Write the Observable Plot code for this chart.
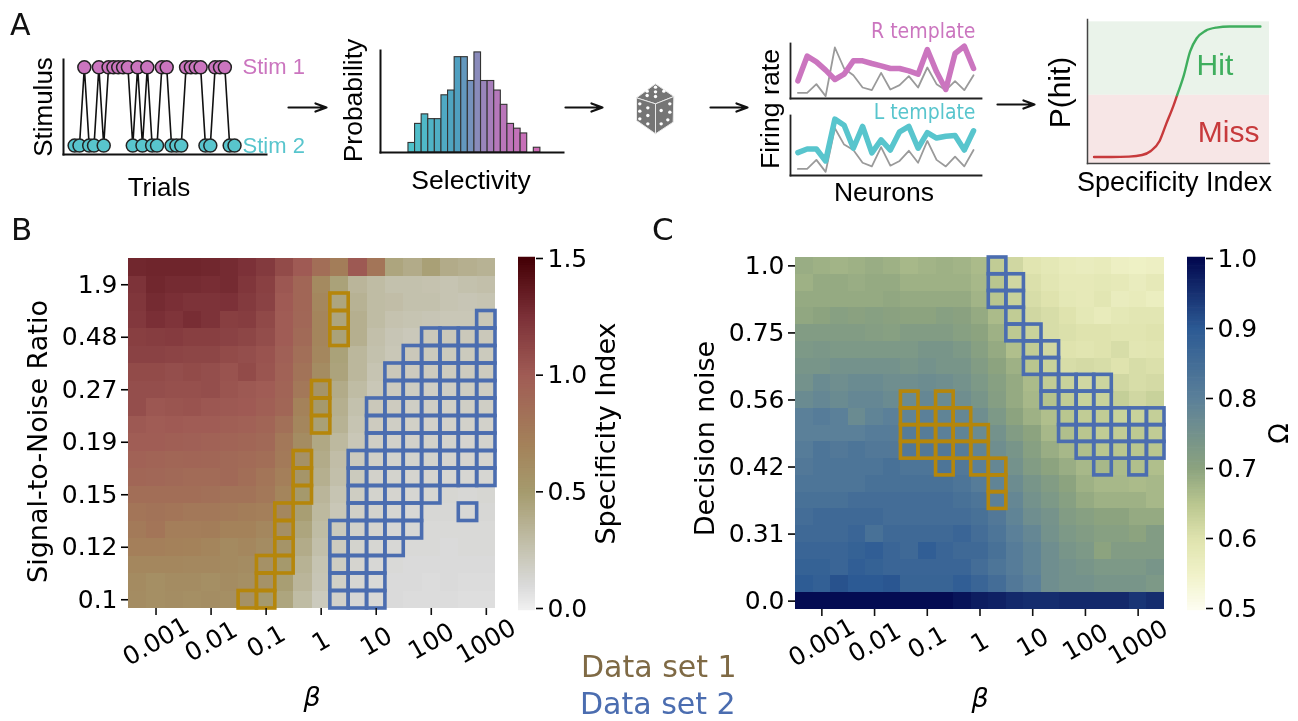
<!DOCTYPE html>
<html><head><meta charset="utf-8">
<script src="https://cdn.jsdelivr.net/npm/d3@7"></script>
<script src="https://cdn.jsdelivr.net/npm/@observablehq/plot@0.6"></script>
<style>
html,body{margin:0;padding:0;background:#fff;width:1298px;height:721px;overflow:hidden}
#page{position:relative;width:1298px;height:721px;font-family:"DejaVu Sans";filter:blur(.55px)}
#page svg{position:absolute;overflow:visible}
.lbl{position:absolute;line-height:1;white-space:nowrap}
</style></head><body><div id="page"></div>
<script>
// ---------- Panel A data ----------
const stimSequence=[2,2,1,2,2,1,2,1,1,1,1,1,2,1,2,1,2,2,1,1,2,2,2,1,1,1,1,2,2,1,1,1,2,2];
const histCounts=[2,6,8,7,7,12,13,20,20,15,21,15,15,13,10,6,5,4,0,1];
const rTemplate=[53,127,110,85,57,73,113,113,105,98,90,90,83,73,147,80,27,135,157,90];
const rTrial=[17,17,43,7,153,90,70,33,25,77,27,40,67,33,93,43,25,52,25,70];
const lTemplate=[63,73,73,40,155,138,75,135,62,98,70,120,135,75,118,103,108,110,70,123];
const lTrial=[18,18,43,10,130,85,70,35,25,78,27,40,68,35,95,43,25,52,25,70];
const curveX=[.036,.132,.228,.30,.348,.396,.432,.474,.492,.528,.564,.60,.648,.708,.78,.95];
const curveY=[0,0,.003,.015,.046,.123,.252,.40,.473,.62,.81,.91,.967,.992,1,1];
// ---------- Panel B data: Specificity Index, rows top (SNR high) to bottom ----------
const snrLabels=["0.1","0.12","0.15","0.19","0.27","0.48","1.9"];
const betaLabels=["0.001","0.01","0.1","1","10","100","1000"];
const siRows=[
[1.30,1.31,1.31,1.31,1.30,1.28,1.25,1.20,1.10,1.01,.86,.74,1.02,.80,.44,.40,.47,.40,.38,.36],
[1.24,1.30,1.28,1.28,1.27,1.28,1.22,1.16,1.03,.92,.64,.46,.34,.30,.27,.27,.26,.25,.27,.28],
[1.22,1.28,1.26,1.24,1.24,1.25,1.20,1.15,1.01,.92,.66,.44,.36,.30,.29,.27,.27,.25,.24,.25],
[1.21,1.26,1.23,1.27,1.24,1.17,1.18,1.11,1.00,.91,.68,.44,.38,.30,.26,.25,.24,.23,.23,.23],
[1.17,1.18,1.19,1.17,1.17,1.15,1.13,1.09,1.00,.89,.68,.46,.38,.28,.24,.22,.22,.22,.22,.22],
[1.15,1.15,1.14,1.13,1.13,1.10,1.08,1.05,.97,.85,.66,.46,.33,.27,.23,.22,.21,.21,.21,.21],
[1.10,1.10,1.08,1.10,1.08,1.05,1.10,1.04,.95,.82,.62,.45,.33,.25,.22,.20,.20,.20,.20,.20],
[1.08,1.08,1.07,1.07,1.08,1.04,1.02,1.00,.94,.78,.56,.40,.30,.23,.20,.19,.18,.18,.19,.19],
[1.08,1.03,1.04,1.05,1.03,1.02,1.01,.98,.92,.70,.52,.38,.27,.22,.20,.18,.18,.17,.18,.18],
[1.02,1.00,1.01,1.00,1.00,.98,.96,.93,.84,.67,.47,.36,.25,.20,.18,.17,.16,.16,.16,.16],
[.99,.99,.98,.97,.95,.94,.92,.90,.78,.62,.42,.32,.23,.18,.16,.16,.16,.15,.14,.15],
[.95,.94,.92,.93,.92,.90,.88,.86,.76,.58,.40,.29,.21,.17,.15,.15,.15,.14,.14,.14],
[.92,.91,.90,.88,.88,.90,.86,.80,.72,.55,.38,.28,.21,.16,.15,.14,.14,.13,.13,.13],
[.86,.86,.86,.86,.84,.82,.82,.78,.68,.52,.34,.25,.19,.15,.14,.13,.13,.13,.12,.13],
[.80,.82,.80,.78,.78,.76,.74,.72,.66,.48,.32,.23,.17,.15,.13,.12,.12,.12,.12,.12],
[.76,.80,.73,.73,.74,.70,.70,.66,.60,.44,.30,.21,.16,.14,.12,.12,.11,.11,.11,.11],
[.72,.72,.71,.70,.68,.64,.66,.62,.56,.40,.28,.20,.15,.13,.12,.11,.11,.10,.11,.11],
[.66,.66,.66,.65,.65,.64,.62,.58,.52,.36,.25,.19,.14,.12,.11,.10,.10,.10,.10,.10],
[.63,.60,.62,.62,.60,.62,.60,.57,.48,.34,.24,.17,.13,.11,.10,.10,.09,.10,.09,.09],
[.62,.60,.61,.60,.61,.60,.58,.52,.44,.30,.21,.16,.12,.11,.10,.09,.09,.09,.08,.08]];
// outlined cells: [row from bottom, first column, last column]
const bSet1=[[0,6,7],[1,7,7],[2,7,8],[3,8,8],[4,8,8],[5,8,8],[6,9,9],[7,9,9],[8,9,9],[10,10,10],[11,10,10],[12,10,10],[15,11,11],[16,11,11],[17,11,11]];
const bSet2=[[0,11,13],[1,11,13],[2,11,13],[3,11,14],[4,11,15],[5,12,15],[5,18,18],[6,12,16],[7,12,19],[8,12,19],[9,13,19],[10,13,19],[11,13,19],[12,14,19],[13,14,19],[14,15,19],[15,16,19],[16,19,19]];
// ---------- Panel C data: Omega, rows top (noise 1.0) to bottom (noise 0) ----------
const noiseLabels=["0.0","0.31","0.42","0.56","0.75","1.0"];
const omegaRows=[
[.685,.68,.675,.68,.685,.68,.67,.675,.68,.675,.665,.64,.62,.595,.585,.575,.57,.575,.56,.555,.56],
[.68,.69,.69,.685,.69,.69,.68,.68,.68,.68,.67,.65,.62,.605,.59,.58,.58,.585,.58,.57,.58],
[.69,.69,.69,.69,.69,.695,.69,.69,.69,.69,.675,.65,.63,.61,.60,.585,.58,.59,.57,.575,.565],
[.695,.70,.71,.705,.71,.705,.70,.70,.71,.705,.69,.665,.64,.62,.61,.60,.585,.575,.585,.59,.59],
[.72,.72,.72,.72,.715,.71,.72,.72,.72,.71,.70,.68,.645,.63,.61,.605,.60,.60,.595,.595,.60],
[.73,.735,.73,.73,.73,.73,.73,.74,.74,.73,.71,.69,.66,.64,.62,.60,.595,.60,.61,.59,.595],
[.74,.74,.75,.75,.75,.75,.74,.75,.74,.74,.72,.70,.68,.65,.63,.61,.615,.61,.60,.61,.605],
[.75,.77,.76,.77,.77,.76,.76,.765,.76,.75,.73,.71,.69,.665,.64,.63,.62,.625,.62,.61,.615],
[.77,.78,.77,.78,.78,.77,.77,.78,.77,.76,.74,.715,.69,.67,.655,.64,.63,.63,.635,.62,.63],
[.80,.81,.80,.77,.79,.80,.79,.80,.79,.78,.76,.73,.70,.68,.66,.65,.64,.64,.63,.63,.635],
[.80,.80,.80,.80,.81,.81,.81,.81,.80,.79,.77,.75,.72,.70,.67,.66,.65,.64,.64,.645,.64],
[.81,.83,.82,.83,.82,.82,.82,.82,.82,.81,.79,.76,.74,.71,.685,.67,.66,.65,.65,.65,.65],
[.82,.83,.83,.83,.83,.84,.83,.83,.83,.82,.80,.78,.75,.72,.70,.685,.67,.67,.665,.66,.66],
[.83,.83,.83,.83,.84,.84,.84,.84,.84,.83,.81,.79,.765,.74,.72,.70,.68,.67,.67,.665,.67],
[.84,.84,.84,.85,.85,.85,.85,.85,.85,.84,.83,.80,.78,.75,.73,.71,.69,.68,.68,.68,.67],
[.85,.86,.86,.86,.86,.85,.85,.85,.85,.85,.84,.82,.79,.76,.745,.72,.71,.70,.70,.69,.69],
[.86,.86,.86,.87,.84,.86,.86,.86,.86,.87,.85,.83,.80,.78,.75,.73,.72,.71,.71,.70,.72],
[.87,.87,.87,.88,.89,.87,.86,.89,.87,.86,.86,.84,.81,.79,.76,.74,.73,.70,.72,.72,.72],
[.88,.88,.87,.89,.88,.87,.87,.87,.87,.87,.85,.83,.81,.79,.76,.75,.74,.73,.73,.73,.74],
[.895,.885,.91,.90,.90,.905,.875,.875,.875,.89,.87,.85,.82,.80,.76,.75,.75,.74,.74,.74,.73],
[.995,.995,.995,.995,.995,.995,.995,.995,.995,.985,.975,.97,.96,.955,.955,.96,.96,.96,.96,.945,.955]];
const cSet1=[[12,6,6],[12,8,8],[11,6,9],[10,6,10],[9,6,10],[8,8,8],[8,10,11],[7,11,11],[6,11,11]];
const cSet2=[[20,11,11],[19,11,12],[18,11,12],[17,12,12],[16,12,13],[15,13,14],[14,13,14],[13,14,17],[12,14,17],[11,15,20],[10,15,20],[9,16,20],[8,17,17],[8,19,19]];
// ---------- Dice icon ----------
const diceFaces=[{f:"top",p:[[75,40],[130,78],[75,100],[18,82]]},{f:"left",p:[[18,82],[75,100],[75,190],[18,150]]},{f:"right",p:[[130,78],[128,155],[75,190],[75,100]]}];
const dicePips=[[75,50],[50,62],[75,64],[100,62],[50,75],[75,78],[28,100],[52,112],[28,122],[52,135],[28,145],[52,160],[118,100],[92,120],[118,125],[92,160],[112,148]];
// ---------- Arrows ----------
const arrowStart=[288,565,710,997], arrowEnd=[326,602,747,1034], arrowLevel=[107,107,107,104];

const page=document.getElementById("page");
const base={background:"transparent",overflow:"visible"};
function put(options,left,top){
  const svg=Plot.plot({...options,style:{...base,font:"25px 'DejaVu Sans'",...(options.style||{})}});
  svg.style.left=left+"px";svg.style.top=top+"px";page.appendChild(svg);return svg;
}
function label(t,left,top,size,color){
  const d=document.createElement("div");d.className="lbl";d.textContent=t;
  d.style.cssText+=`left:${left}px;top:${top}px;font-size:${size}px;color:${color||"#111"}`;page.appendChild(d);
}
const HELV="'Liberation Sans'";
const MAG="#cb75bf",TEAL="#58c5cd",GOLD="#b5860b",BLUE="#4b6db0";
const axisLines=(s="#111",w=2)=>[Plot.frame({anchor:"left",stroke:s,strokeWidth:w}),Plot.frame({anchor:"bottom",stroke:s,strokeWidth:w})];
// a title rotated or not, centred on an offset from one side of the frame
const title=(t,side,dx,dy,extra={})=>Plot.text([t],{frameAnchor:side,text:d=>d,textAnchor:"middle",lineAnchor:"middle",dx,dy,...(side==="left"||side==="right"?{rotate:-90}:{}),...extra});

// Panel letters
label("A",10,10,30);label("B",11,214,31);label("C",652,214,31);
label("Data set 1",581,652,30,"#7f6a45");label("Data set 2",580,689,30,BLUE);

// A1 stimulus raster
const trials=stimSequence.map((s,t)=>({t,s:s===1?1:0}));
put({width:320,height:210,marginLeft:63,marginRight:54,marginTop:59,marginBottom:56,
  style:{font:`26px ${HELV}`},
  x:{domain:[-2.3,39.6],axis:null},y:{domain:[-.114,1.1],axis:null},
  marks:[...axisLines(),
   Plot.line(trials,{x:"t",y:"s",stroke:"#111",strokeWidth:1.6}),
   Plot.dot(trials,{x:"t",y:"s",r:6.5,fill:d=>d.s?MAG:TEAL,stroke:"#222",strokeWidth:1.5}),
   Plot.text(["Stim 1"],{x:33,y:1,dx:8,text:d=>d,textAnchor:"start",fill:MAG,fontSize:22}),
   Plot.text(["Stim 2"],{x:33,y:0,dx:8,text:d=>d,textAnchor:"start",fill:TEAL,fontSize:22}),
   title("Stimulus","left",-20,0),
   title("Trials","bottom",-6,33)
  ]},0,0);

// A2 histogram
const bins=histCounts.map((c,i)=>({i,c}));
put({width:240,height:210,marginLeft:50,marginRight:7,marginTop:50,marginBottom:58,
  style:{font:`26.5px ${HELV}`},
  x:{domain:[-4.24,23.5],axis:null},y:{domain:[0,21.4],axis:null},
  color:{type:"linear",domain:[0,7,10,13,19],range:["#4fc2ca","#4f9fc0","#8a8bbb","#b678bb","#cf6cb6"]},
  marks:[
   Plot.rectY(bins.filter(d=>d.c>0),{x1:"i",x2:d=>d.i+1,y:"c",fill:"i",stroke:"#333",strokeWidth:1.1}),
   ...axisLines(),
   title("Probability","left",-27,-1),
   title("Selectivity","bottom",-1,28)
  ]},330,0);

// A dice
put({width:50,height:70,margin:0,x:{domain:[0,150],axis:null},y:{domain:[210,0],axis:null},
  marks:[
   ...diceFaces.map(d=>Plot.line(d.p.concat([d.p[0]]),{x:"0",y:"1",fill:"#757575",stroke:"#e8e8e8",strokeWidth:1})),
   Plot.dot(dicePips,{x:"0",y:"1",r:1.7,fill:"#fff"})
  ]},630,70);

// arrows
put({width:1298,height:210,margin:0,x:{domain:[0,1298],axis:null},y:{domain:[210,0],axis:null},
  marks:[Plot.arrow(arrowStart.map((a,i)=>i),{x1:i=>arrowStart[i],x2:i=>arrowEnd[i],y1:i=>arrowLevel[i],y2:i=>arrowLevel[i],stroke:"#111",strokeWidth:2.2,headLength:8,headAngle:40,bend:0})]},0,0);

// A3 templates
const neurons=r=>r.map((v,n)=>({n,v}));
put({width:250,height:110,marginLeft:50,marginRight:9,marginTop:43,marginBottom:12,
  style:{font:`26.7px ${HELV}`},
  x:{domain:[-.8,19.86],axis:null},y:{domain:[0,165],axis:null},
  marks:[...axisLines("#222",1.8),
   Plot.line(neurons(rTrial),{x:"n",y:"v",stroke:"#9a9a9a",strokeWidth:1.8}),
   Plot.line(neurons(rTemplate),{x:"n",y:"v",stroke:MAG,strokeWidth:5.5}),
   Plot.text(["R template"],{frameAnchor:"top-right",text:d=>d,dx:-6,dy:-12,lineAnchor:"middle",fill:MAG,fontSize:21,fontFamily:"DejaVu Sans Condensed"}),
   title("Firing rate","left",-20,38)
  ]},740,0);
put({width:250,height:75,marginLeft:50,marginRight:9,marginTop:10,marginBottom:5,
  style:{font:`26.5px ${HELV}`},
  x:{domain:[-.8,19.86],axis:null},y:{domain:[0,165],axis:null},
  marks:[...axisLines("#222",1.8),
   Plot.line(neurons(lTrial),{x:"n",y:"v",stroke:"#9a9a9a",strokeWidth:1.8}),
   Plot.line(neurons(lTemplate),{x:"n",y:"v",stroke:TEAL,strokeWidth:5.5}),
   Plot.text(["L template"],{frameAnchor:"top-right",text:d=>d,dx:-6,dy:-3,lineAnchor:"middle",fill:TEAL,fontSize:21,fontFamily:"DejaVu Sans Condensed"}),
   title("Neurons","bottom",-2,17)
  ]},740,105);

// A4 P(hit)
const curve=curveX.map((x,i)=>({x,y:curveY[i]}));
const split=.473;
put({width:258,height:215,marginLeft:47,marginRight:29,marginTop:19,marginBottom:52,
  style:{font:`30px ${HELV}`},
  x:{domain:[0,1],axis:null},y:{domain:[-.05,1.054],axis:null},
  marks:[
   Plot.rect([{y1:split,y2:1.036,f:"#eaf3ea"},{y1:-.05,y2:split,f:"#f7e6e6"}],{x1:0,x2:1,y1:"y1",y2:"y2",fill:"f"}),
   Plot.line(curve.filter(d=>d.y<=split),{x:"x",y:"y",stroke:"#c73a3c",strokeWidth:2.4,curve:"monotone-x"}),
   Plot.line(curve.filter(d=>d.y>=split),{x:"x",y:"y",stroke:"#3fae5e",strokeWidth:2.4,curve:"monotone-x"}),
   ...axisLines("#444",1.5),
   Plot.text(["Hit"],{x:.70,y:.70,text:d=>d,fill:"#3fae5e"}),
   Plot.text(["Miss"],{x:.775,y:.19,text:d=>d,fill:"#c73a3c"}),
   title("P(hit)","left",-27,1),
   title("Specificity Index","bottom",-4,19,{fontSize:27})
  ]},1040,0);

// heatmap helper
function expand(spec){return spec.flatMap(([r,a,b])=>d3.range(a,b+1).map(c=>({c,r})));}
function heat({rows,set1,set2,yLabels,yTicks,color,name,left,width,mL,mR,top,height,mT,mB,titleDx,titleDy}){
  const nr=rows.length,nc=rows[0].length;
  const cells=rows.flatMap((row,i)=>row.map((v,c)=>({c,r:nr-1-i,v})));
  const xt=[1,4,7,10,13,16,19];
  put({width,height,marginLeft:mL,marginRight:mR,marginTop:mT,marginBottom:mB,color,
    x:{type:"band",domain:d3.range(nc),padding:0,round:false,axis:null},
    y:{type:"band",domain:d3.range(nr-1,-1,-1),padding:0,round:false,axis:null},
    marks:[
     Plot.cell(cells,{x:"c",y:"r",fill:"v",shapeRendering:"crispEdges"}),
     Plot.cell(expand(set2),{x:"c",y:"r",fill:"none",stroke:BLUE,strokeWidth:3.6}),
     Plot.cell(expand(set1),{x:"c",y:"r",fill:"none",stroke:GOLD,strokeWidth:3.6}),
     Plot.axisX({anchor:"bottom",ticks:xt,tickFormat:null,text:null,tickSize:7,strokeWidth:1.6,stroke:"#111",label:null}),
     Plot.axisY({anchor:"left",ticks:yTicks,tickFormat:i=>yLabels[yTicks.indexOf(i)],tickSize:7,tickPadding:4,strokeWidth:1.6,label:null,fontSize:25}),
     Plot.text(xt,{x:d=>d,text:(d,i)=>betaLabels[i],frameAnchor:"bottom",dy:33,rotate:-30,textAnchor:"middle",lineAnchor:"middle",fontSize:25}),
     title("β","bottom",0,89,{fontStyle:"italic",fontSize:27}),
     title(name,"left",titleDx,titleDy,{fontSize:27})
    ]},left,top);
}
const siColor={type:"linear",domain:[0,.1,.25,.5,.7,1,1.25,1.5],range:["#f0f0f0","#dadada","#c6c4b2","#a59b6e","#a4825a","#a05c55","#7c3138","#450006"]};
const omColor={type:"linear",domain:[.5,.55,.6,.65,.7,.8,.9,1],range:["#fdfdf0","#f0f2c8","#dfe3ae","#b9c68f","#8ca37f","#5b8099","#2c5a94","#02084f"]};
heat({rows:siRows,set1:bSet1,set2:bSet2,yLabels:snrLabels,yTicks:[0,3,6,9,12,15,18],color:siColor,name:"Signal-to-Noise Ratio",
  left:0,width:520,mL:128,mR:25,top:200,height:520,mT:58,mB:112,titleDx:-90,titleDy:8});
heat({rows:omegaRows,set1:cSet1,set2:cSet2,yLabels:noiseLabels,yTicks:[0,4,8,12,16,20],color:omColor,name:"Decision noise",
  left:640,width:540,mL:155,mR:16,top:200,height:521,mT:57,mB:112,titleDx:-90,titleDy:5});

// colour bars
function bar({color,domain,step,ticks,fmt,name,left,width,mL,mR,titleDx,titleSize}){
  put({width,height:380,marginLeft:mL,marginRight:mR,marginTop:18,marginBottom:12,color,
    y:{domain,axis:null},
    marks:[
     Plot.ruleY(d3.range(domain[0],domain[1]+step/2,step),{y:d=>d,stroke:d=>d,strokeWidth:3.5}),
     Plot.axisY({anchor:"right",ticks,tickFormat:fmt,tickSize:7,tickPadding:5,strokeWidth:1.6,label:null,fontSize:25}),
     title(name,"right",titleDx,0,{fontSize:titleSize})
    ]},left,240);
}
bar({color:siColor,domain:[0,1.5],step:.01,ticks:[0,.5,1,1.5],fmt:d3.format(".1f"),name:"Specificity Index",left:505,width:130,mL:13,mR:100,titleDx:71,titleSize:27});
bar({color:omColor,domain:[.5,1],step:.004,ticks:[.5,.6,.7,.8,.9,1],fmt:d3.format(".1f"),name:"Ω",left:1175,width:123,mL:12,mR:93,titleDx:74,titleSize:27});
</script></body></html>
